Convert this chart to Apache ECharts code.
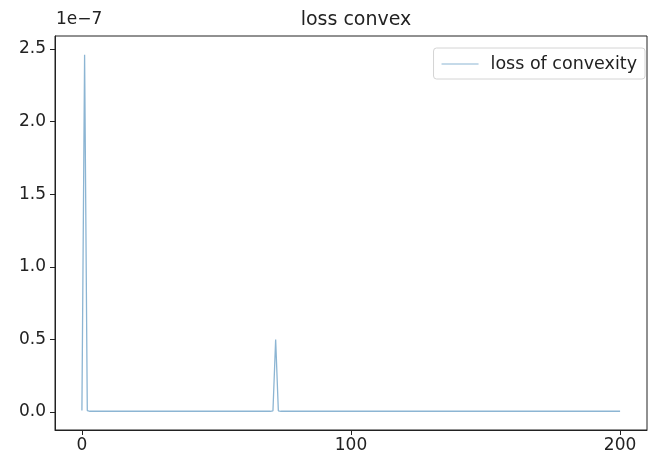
<!DOCTYPE html>
<html>
<head>
<meta charset="utf-8">
<script src="https://cdn.jsdelivr.net/npm/echarts@6/dist/echarts.min.js"></script>
<style>html,body{margin:0;padding:0;background:#fff}#c{width:652px;height:459px}</style>
</head>
<body>
<div id="c"></div>
<script>
// values in units of 1e-7, one per step 0..200
const steps = [];
for (let i = 0; i <= 200; i++) steps.push(i);
const lossOfConvexity = [
  0.010, 2.460, 0.010,
  0.005, 0.005, 0.005, 0.005, 0.005, 0.005, 0.005,
  0.005, 0.005, 0.005, 0.005, 0.005, 0.005, 0.005, 0.005, 0.005, 0.005,
  0.005, 0.005, 0.005, 0.005, 0.005, 0.005, 0.005, 0.005, 0.005, 0.005,
  0.005, 0.005, 0.005, 0.005, 0.005, 0.005, 0.005, 0.005, 0.005, 0.005,
  0.005, 0.005, 0.005, 0.005, 0.005, 0.005, 0.005, 0.005, 0.005, 0.005,
  0.005, 0.005, 0.005, 0.005, 0.005, 0.005, 0.005, 0.005, 0.005, 0.005,
  0.005, 0.005, 0.005, 0.005, 0.005, 0.005, 0.005, 0.005, 0.005, 0.005,
  0.005,
  0.008, 0.500, 0.008,
  0.005, 0.005, 0.005, 0.005, 0.005, 0.005,
  0.005, 0.005, 0.005, 0.005, 0.005, 0.005, 0.005, 0.005, 0.005, 0.005,
  0.005, 0.005, 0.005, 0.005, 0.005, 0.005, 0.005, 0.005, 0.005, 0.005,
  0.005, 0.005, 0.005, 0.005, 0.005, 0.005, 0.005, 0.005, 0.005, 0.005,
  0.005, 0.005, 0.005, 0.005, 0.005, 0.005, 0.005, 0.005, 0.005, 0.005,
  0.005, 0.005, 0.005, 0.005, 0.005, 0.005, 0.005, 0.005, 0.005, 0.005,
  0.005, 0.005, 0.005, 0.005, 0.005, 0.005, 0.005, 0.005, 0.005, 0.005,
  0.005, 0.005, 0.005, 0.005, 0.005, 0.005, 0.005, 0.005, 0.005, 0.005,
  0.005, 0.005, 0.005, 0.005, 0.005, 0.005, 0.005, 0.005, 0.005, 0.005,
  0.005, 0.005, 0.005, 0.005, 0.005, 0.005, 0.005, 0.005, 0.005, 0.005,
  0.005, 0.005, 0.005, 0.005, 0.005, 0.005, 0.005, 0.005, 0.005, 0.005,
  0.005, 0.005, 0.005, 0.005, 0.005, 0.005, 0.005, 0.005, 0.005, 0.005,
  0.005, 0.005, 0.005, 0.005, 0.005, 0.005, 0.005, 0.005, 0.005, 0.005,
  0.005
];
const xTicks = [0, 100, 200];
const yTicks = [0, 0.5, 1.0, 1.5, 2.0, 2.5];
const titleText = 'loss convex';
const seriesName = 'loss of convexity';
const scaleText = '1e\u22127';

const FONT = 'DejaVu Sans';
const TXT = '#222';
const LINE = '#8cb5d3';
const chart = echarts.init(document.getElementById('c'), null, {renderer: 'canvas'});
chart.setOption({
  animation: false,
  backgroundColor: '#fff',
  textStyle: {fontFamily: FONT},
  title: {
    text: titleText, left: 351, textAlign: 'center', top: 6,
    textStyle: {fontFamily: FONT, fontSize: 19, fontWeight: 'normal', color: TXT}
  },
  graphic: [{
    type: 'text', left: 56, top: 11,
    style: {text: scaleText, fontFamily: FONT, fontSize: 17, fill: TXT}
  }],
  legend: {
    right: 7, top: 48,
    padding: [7, 8, 6, 8],
    borderColor: '#d4d4d4', borderWidth: 1, borderRadius: 3,
    backgroundColor: '#fff',
    itemWidth: 37, itemHeight: 1, itemGap: 10,
    icon: 'rect',
    textStyle: {fontFamily: FONT, fontSize: 17.5, color: TXT, padding: [0, 0, 0, 7]},
    data: [seriesName]
  },
  grid: {
    left: 55, right: 5, top: 36, bottom: 29,
    show: true, borderColor: '#222', borderWidth: 1, backgroundColor: 'transparent'
  },
  xAxis: {
    type: 'value', min: -10, max: 210,
    axisLine: {show: true, onZero: false, lineStyle: {color: '#222'}},
    axisTick: {show: true, inside: false, length: 5, lineStyle: {color: '#222'}, customValues: xTicks},
    axisLabel: {fontFamily: FONT, fontSize: 17, color: TXT, margin: 7, customValues: xTicks},
    splitLine: {show: false}
  },
  yAxis: {
    type: 'value', min: -0.124, max: 2.59,
    axisLine: {show: true, onZero: false, lineStyle: {color: '#222'}},
    axisTick: {show: true, inside: false, length: 5, lineStyle: {color: '#222'}, customValues: yTicks},
    axisLabel: {fontFamily: FONT, fontSize: 17, color: TXT, margin: 9, customValues: yTicks,
      formatter: v => v.toFixed(1)},
    splitLine: {show: false}
  },
  series: [{
    name: seriesName, type: 'line',
    data: steps.map((x, i) => [x, lossOfConvexity[i]]),
    showSymbol: false, symbol: 'none',
    lineStyle: {color: LINE, width: 1.3},
    itemStyle: {color: LINE}
  }]
});
</script>
</body>
</html>
